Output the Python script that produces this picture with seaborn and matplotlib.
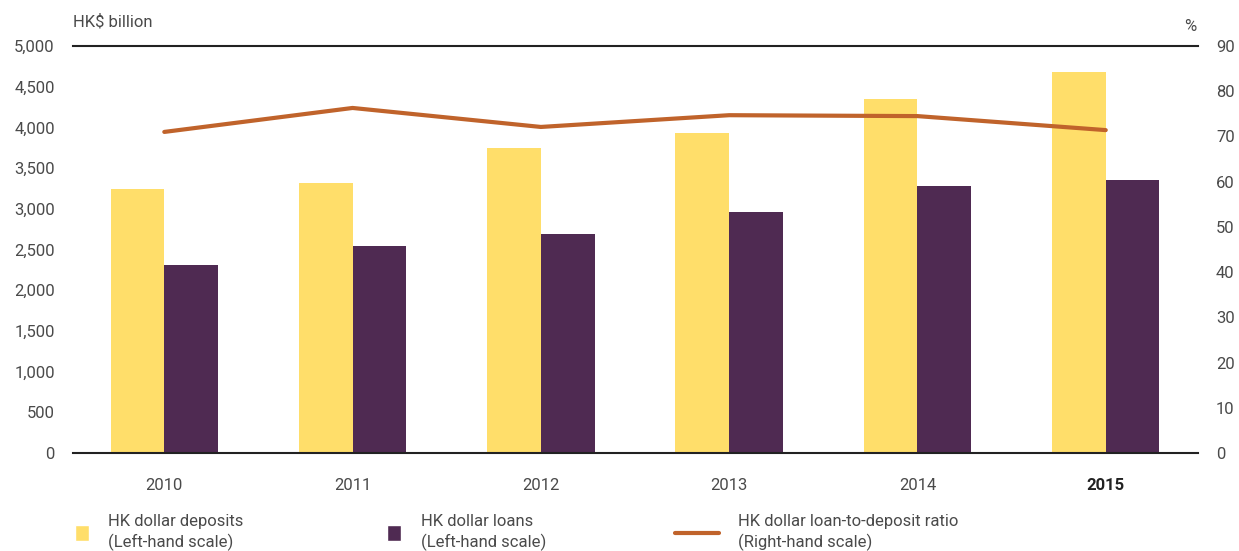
import pandas as pd
import numpy as np
import matplotlib.pyplot as plt
from matplotlib.patches import Patch
from matplotlib.lines import Line2D
from matplotlib.ticker import FuncFormatter, FixedLocator
import seaborn as sns

anios = ['2010', '2011', '2012', '2013', '2014', '2015']
depositos = [3244, 3318, 3748, 3933, 4351, 4682]
prestamos = [2310, 2544, 2691, 2962, 3281, 3355]
ratio = [71.0, 76.3, 72.1, 74.7, 74.5, 71.4]

serie_dep = 'HK dollar deposits'
serie_pre = 'HK dollar loans'

df = pd.DataFrame({
    'Anio': anios * 2,
    'Valor': depositos + prestamos,
    'Serie': [serie_dep] * len(anios) + [serie_pre] * len(anios),
})

AMARILLO = '#FFDE6A'
MORADO = '#4F2A52'
NARANJA = '#C0632B'
GRIS = '#4a4a4a'
TAM = 12

sns.set_theme(style='white')
plt.rcParams['font.family'] = ['Roboto', 'DejaVu Sans']

fig = plt.figure(figsize=(12.39, 5.51), dpi=100)
ax = fig.add_axes([0.0589, 0.1779, 0.9080, 0.7386])

sns.barplot(data=df, x='Anio', y='Valor', hue='Serie', ax=ax,
            palette=[AMARILLO, MORADO], width=0.57, saturation=1,
            errorbar=None, legend=False, linewidth=0)

ax.set_xlim(-0.485, 5.49)
ax.set_ylim(0, 5000)
ax.set_xlabel('')
ax.set_ylabel('')
ax.set_yticks(np.arange(0, 5001, 500))
ax.yaxis.set_major_formatter(FuncFormatter(lambda v, p: f'{int(v):,}'))
ax.tick_params(axis='y', length=0, labelsize=TAM, labelcolor=GRIS, pad=13)
ax.tick_params(axis='x', which='major', length=0, labelsize=TAM, labelcolor=GRIS, pad=18)
ax.xaxis.set_minor_locator(FixedLocator(np.arange(0.5, 5, 1)))
ax.tick_params(axis='x', which='minor', length=8, width=1.3, color='#222222', direction='out')

for s in ['left', 'right']:
    ax.spines[s].set_visible(False)
for s in ['top', 'bottom']:
    ax.spines[s].set_color('#222222')
    ax.spines[s].set_linewidth(1.5)

etiquetas = ax.get_xticklabels()
etiquetas[-1].set_fontweight('bold')
etiquetas[-1].set_color('#222222')

ax2 = ax.twinx()
sns.lineplot(x=np.arange(len(anios)), y=ratio, ax=ax2, color=NARANJA, linewidth=3)
ax2.set_ylim(0, 90)
ax2.set_yticks(np.arange(0, 91, 10))
ax2.tick_params(axis='y', length=0, labelsize=TAM, labelcolor=GRIS, pad=13)
for s in ['left', 'right', 'top', 'bottom']:
    ax2.spines[s].set_visible(False)

fig.text(0.0589, 0.96, 'HK$ billion', fontsize=TAM, color=GRIS, ha='left', va='center')
fig.text(0.966, 0.951, '%', fontsize=TAM, color=GRIS, ha='right', va='center')

entradas = [
    (Patch(facecolor=AMARILLO), serie_dep + '\n(Left-hand scale)', 0.0605, 0.85, 1.15),
    (Patch(facecolor=MORADO), serie_pre + '\n(Left-hand scale)', 0.3125, 0.85, 1.15),
    (Line2D([0], [0], color=NARANJA, linewidth=3), 'HK dollar loan-to-deposit ratio\n(Right-hand scale)', 0.545, 2.6, 0.7),
]
for handle, texto, x0, hl, hh in entradas:
    leg = fig.legend(handles=[handle], labels=[texto], loc='lower left',
                     bbox_to_anchor=(x0, 0.0), frameon=False, fontsize=TAM,
                     labelcolor=GRIS, handlelength=hl, handleheight=hh,
                     handletextpad=1.15, borderpad=0, borderaxespad=0)
    for t in leg.get_texts():
        t.set_linespacing(1.35)

fig.savefig('out.png', dpi=100)
